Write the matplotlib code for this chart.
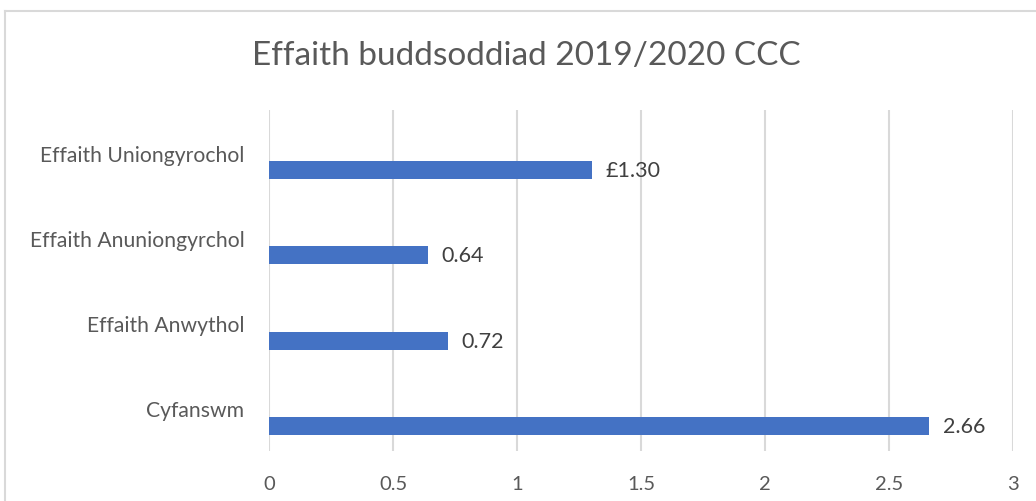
import matplotlib.pyplot as plt
from matplotlib.lines import Line2D

# data
categories = ["Effaith Uniongyrochol", "Effaith Anuniongyrchol", "Effaith Anwythol", "Cyfanswm"]
values = [1.30, 0.64, 0.72, 2.66]
value_labels = ["£1.30", "0.64", "0.72", "2.66"]
xticks = [0, 0.5, 1, 1.5, 2, 2.5, 3]
xtick_labels = ["0", "0.5", "1", "1.5", "2", "2.5", "3"]

plt.rcParams['font.family'] = ['Lato', 'DejaVu Sans']

fig = plt.figure(figsize=(10.36, 5.02), dpi=100)
ax = fig.add_axes([0.26, 0.0996, 0.718, 0.679])

pos = list(range(len(categories)))
bar_pos = [p + 0.204 for p in pos]
ax.barh(bar_pos, values, height=0.21, color='#4472C4', zorder=3)

for y, v, lab in zip(bar_pos, values, value_labels):
    ax.text(v + 0.055, y, lab, va='center', ha='left', fontsize=15.5, color='#404040')

ax.set_xlim(0, 3)
ax.set_ylim(3.5, -0.5)
ax.set_xticks(xticks)
ax.set_xticklabels(xtick_labels)
ax.set_yticks(pos)
ax.set_yticklabels(categories)
ax.tick_params(axis='x', length=0, pad=17, labelsize=14.5, colors='#595959')
ax.tick_params(axis='y', length=0, pad=18, labelsize=15.2, colors='#595959')
ax.grid(axis='x', color='#d9d9d9', linewidth=1.5, zorder=0)
for s in ax.spines.values():
    s.set_visible(False)

fig.text(0.508, 0.889, "Effaith buddsoddiad 2019/2020 CCC", ha='center', va='center',
         fontsize=24, color='#595959')

# chart border (cropped)
fig.add_artist(Line2D([5/1036, 1], [1 - 12/502, 1 - 12/502], color='#d9d9d9', linewidth=1.5))
fig.add_artist(Line2D([5/1036, 5/1036], [0, 1 - 12/502], color='#d9d9d9', linewidth=1.5))

fig.savefig('out.png', dpi=100)
